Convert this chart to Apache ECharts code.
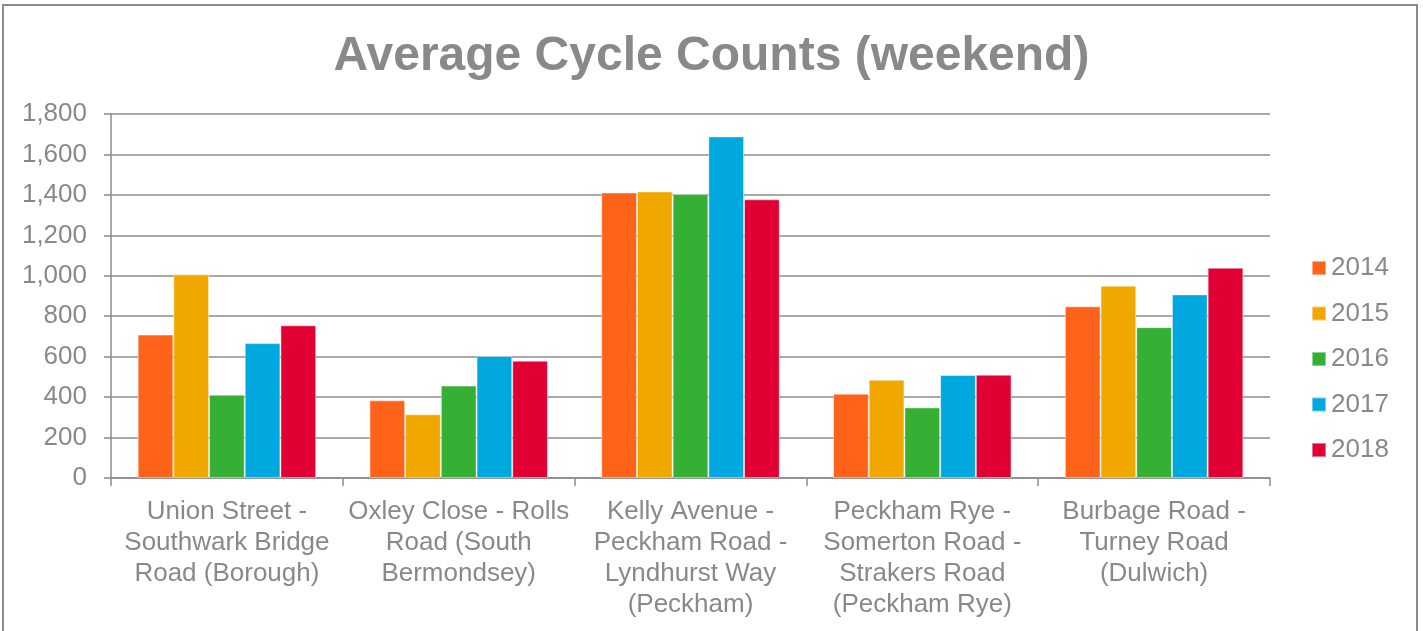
<!DOCTYPE html>
<html>
<head>
<meta charset="utf-8">
<script src="https://cdn.jsdelivr.net/npm/echarts@6/dist/echarts.min.js"></script>
<style>
  html, body { margin: 0; padding: 0; background: #fff; }
  #chart { width: 1423px; height: 631px; }
</style>
</head>
<body>
<div id="chart"></div>
<script>
  // data
  var categories = [
    'Union Street -\nSouthwark Bridge\nRoad (Borough)',
    'Oxley Close - Rolls\nRoad (South\nBermondsey)',
    'Kelly Avenue -\nPeckham Road -\nLyndhurst Way\n(Peckham)',
    'Peckham Rye -\nSomerton Road -\nStrakers Road\n(Peckham Rye)',
    'Burbage Road -\nTurney Road\n(Dulwich)'
  ];
  var years = ['2014', '2015', '2016', '2017', '2018'];
  var v2014 = [709, 384, 1412, 417, 849];
  var v2015 = [1007, 315, 1417, 486, 951];
  var v2016 = [412, 457, 1404, 349, 746];
  var v2017 = [667, 603, 1689, 509, 908];
  var v2018 = [755, 580, 1378, 511, 1040];
  var colors = ['#ff6319', '#f0a800', '#35b034', '#00a8e0', '#e00034'];

  var textGrey = '#898989';
  var lineGrey = '#8c8c8c';
  var font = 'Liberation Sans, Arial, sans-serif';

  var allValues = [v2014, v2015, v2016, v2017, v2018];
  var series = years.map(function (y, i) {
    return {
      name: y,
      type: 'bar',
      data: allValues[i],
      color: colors[i],
      barGap: '0%',
      barCategoryGap: '23%',
      itemStyle: { borderColor: 'rgba(255,255,255,0.45)', borderWidth: 1 }
    };
  });

  var myChart = echarts.init(document.getElementById('chart'));
  var option = {
    animation: false,
    backgroundColor: '#fff',
    textStyle: { fontFamily: font },
    title: {
      text: 'Average Cycle Counts (weekend)',
      left: 'center',
      top: 28,
      textStyle: { color: textGrey, fontSize: 48, fontWeight: 'bold', fontFamily: font }
    },
    legend: {
      data: years,
      orient: 'vertical',
      left: 1306,
      top: 250,
      itemWidth: 14,
      itemHeight: 14,
      itemGap: 19.5,
      icon: 'rect',
      selectedMode: false,
      textStyle: { color: textGrey, fontSize: 26, fontFamily: font }
    },
    grid: { left: 111, right: 153, top: 114, bottom: 153 },
    xAxis: {
      type: 'category',
      data: categories,
      axisLine: { lineStyle: { color: lineGrey, width: 1.5 } },
      axisTick: { show: true, length: 8, lineStyle: { color: lineGrey, width: 1.5 } },
      axisLabel: {
        color: textGrey, fontSize: 26, lineHeight: 31, margin: 18,
        interval: 0, fontFamily: font
      }
    },
    yAxis: {
      type: 'value',
      min: 0,
      max: 1800,
      interval: 200,
      axisLine: { show: true, lineStyle: { color: lineGrey, width: 1.5 } },
      axisTick: { show: true, length: 7, lineStyle: { color: lineGrey, width: 1.5 } },
      splitLine: { lineStyle: { color: lineGrey, width: 1.5 } },
      axisLabel: {
        color: textGrey, fontSize: 26, margin: 24, fontFamily: font,
        formatter: function (v) { return v.toLocaleString('en-US'); }
      }
    },
    graphic: [{
      type: 'rect',
      shape: { x: 3, y: 5, width: 1414, height: 640 },
      style: { fill: 'none', stroke: '#8c8c8c', lineWidth: 2 },
      silent: true
    }],
    series: series
  };
  myChart.setOption(option);
</script>
</body>
</html>
